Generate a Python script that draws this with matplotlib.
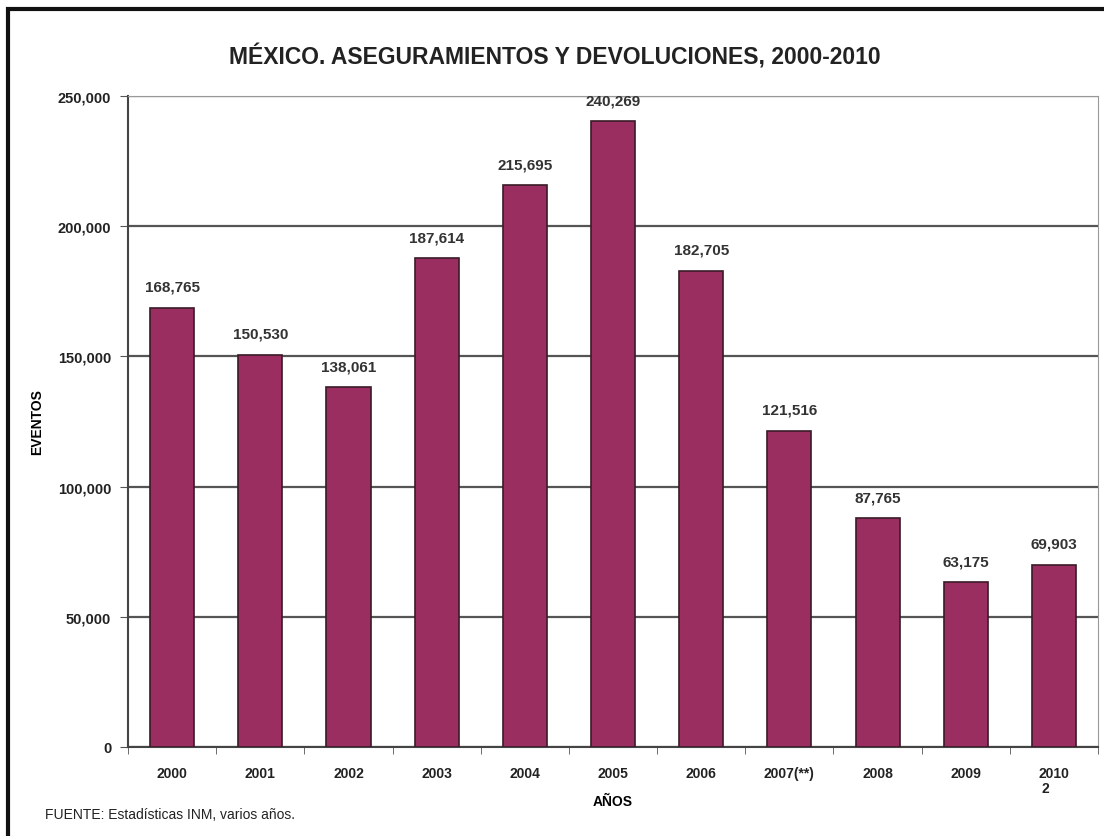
import matplotlib
matplotlib.use("Agg")
import matplotlib.pyplot as plt
from matplotlib.patches import Rectangle

plt.rcParams['font.family'] = ['Liberation Sans', 'DejaVu Sans']

years = ['2000', '2001', '2002', '2003', '2004', '2005', '2006', '2007(**)', '2008', '2009', '2010']
eventos = [168765, 150530, 138061, 187614, 215695, 240269, 182705, 121516, 87765, 63175, 69903]
yticks = [0, 50000, 100000, 150000, 200000, 250000]

bar_color = '#9b2e60'

fig = plt.figure(figsize=(11.04, 8.37), dpi=100)
ax = fig.add_axes([128 / 1104, 1 - 748 / 837, 970 / 1104, 651 / 837])

x = list(range(len(years)))
ax.bar(x, eventos, width=0.5, color=bar_color, edgecolor='#3a1a28', linewidth=1.2, zorder=3)

for xi, v in zip(x, eventos):
    ax.text(xi, v + 5500, f'{v:,}', ha='center', va='bottom', fontsize=11,
            color='#333333', fontweight='bold')

ax.set_ylim(0, 250000)
ax.set_xlim(-0.5, len(years) - 0.5)
ax.set_yticks(yticks)
ax.set_yticklabels([f'{t:,}' for t in yticks], fontsize=10.5, fontweight='bold', color='#222222')
ax.yaxis.grid(True, color='#555555', linewidth=1.6, zorder=0)
ax.set_axisbelow(True)

ax.set_xticks(x)
ax.set_xticklabels(years, fontsize=10, fontweight='bold', color='#222222')
ax.tick_params(axis='x', length=0, pad=14)
ax.set_xticks([i - 0.5 for i in range(len(years) + 1)], minor=True)
ax.tick_params(axis='x', which='minor', length=5, color='#555555')
ax.tick_params(axis='y', length=6, color='#555555', pad=6)

for side in ['top', 'right']:
    ax.spines[side].set_color('#999999')
for side in ['left', 'bottom']:
    ax.spines[side].set_color('#444444')
    ax.spines[side].set_linewidth(1.5)

ax.set_ylabel('EVENTOS', fontsize=10, fontweight='bold', labelpad=10)
ax.set_xlabel('AÑOS', fontsize=10, fontweight='bold', labelpad=10)

fig.text(555 / 1104, 1 - 57 / 837, 'MÉXICO. ASEGURAMIENTOS Y DEVOLUCIONES, 2000-2010',
         ha='center', va='center', fontsize=16.5, fontweight='bold', color='#222222')
fig.text(45 / 1104, 1 - 815 / 837, 'FUENTE: Estadísticas INM, varios años.',
         ha='left', va='center', fontsize=10, color='#222222')
fig.text(1045 / 1104, 1 - 789 / 837, '2', ha='center', va='center', fontsize=10,
         fontweight='bold', color='#222222')

# outer frame
fig.patches.append(Rectangle((8 / 1104, -0.01), 1.1, 1 - 10 / 837 + 0.01, transform=fig.transFigure,
                             fill=False, edgecolor='#111111', linewidth=3))

fig.savefig('out.png', dpi=100)
